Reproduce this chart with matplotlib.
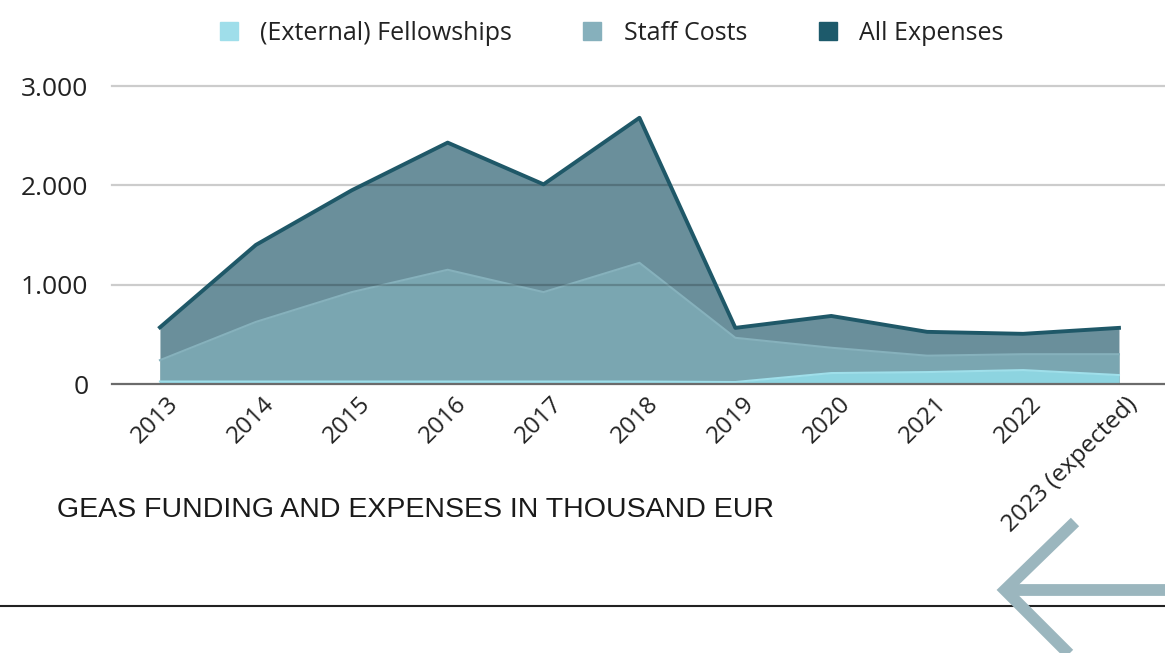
import matplotlib.pyplot as plt
from matplotlib.patches import Patch
from matplotlib.lines import Line2D
import matplotlib.transforms as mtransforms

# Données (milliers d'EUR)
years = ["2013", "2014", "2015", "2016", "2017", "2018", "2019",
         "2020", "2021", "2022", "2023 (expected)"]
all_expenses = [570, 1400, 1950, 2430, 2010, 2680, 565, 685, 525, 505, 565]
staff_costs = [240, 625, 925, 1150, 925, 1220, 465, 365, 285, 300, 300]
fellowships = [25, 25, 25, 25, 25, 25, 20, 110, 120, 140, 90]

yticks = [0, 1000, 2000, 3000]
ytick_labels = ["0", "1.000", "2.000", "3.000"]

plt.rcParams['font.family'] = ['Open Sans', 'DejaVu Sans']

W, H = 1165, 653
fig = plt.figure(figsize=(W / 100, H / 100), dpi=100)
ax = fig.add_axes([112 / W, 1 - 384 / H, (W - 112) / W, (384 - 86) / H])

x = list(range(len(years)))

# Aires superposées
ax.fill_between(x, 0, all_expenses, color='#6a8f9b', lw=0, zorder=2)
ax.fill_between(x, 0, staff_costs, color='#7aa6b1', lw=0, zorder=3)
ax.plot(x, staff_costs, color='#86b1bc', lw=1.5, zorder=3)
ax.fill_between(x, 0, fellowships, color='#8dd4e0', lw=0, zorder=4)
ax.plot(x, fellowships, color='#9fdfea', lw=1.5, zorder=4)

# Lignes de grille
for v in yticks[1:]:
    ax.axhline(v, color='black', alpha=0.2, lw=1.6, zorder=5, clip_on=False)
ax.axhline(0, color='#6b6b6b', lw=1.6, zorder=6, clip_on=False)

ax.plot(x, all_expenses, color='#1f5868', lw=2.8, zorder=7, clip_on=False)

ax.set_xlim(-0.5, 10.48)
ax.set_ylim(0, 3000)

ax.set_yticks(yticks)
ax.set_yticklabels(ytick_labels, fontsize=19, color='#222222')
ax.set_xticks(x)
ax.set_xticklabels(years, fontsize=17.5, color='#222222', rotation=45,
                   ha='right', va='center', rotation_mode='anchor')
ax.tick_params(axis='both', length=0)
ax.tick_params(axis='y', pad=17)
ax.tick_params(axis='x', pad=12)
offset = mtransforms.ScaledTranslation(11 / 72, 0, fig.dpi_scale_trans)
for lbl in ax.get_xticklabels():
    lbl.set_transform(lbl.get_transform() + offset)

for s in ax.spines.values():
    s.set_visible(False)
ax.patch.set_visible(False)

# Légende
handles = [Patch(color='#9fdeea', label='(External) Fellowships'),
           Patch(color='#86b0bc', label='Staff Costs'),
           Patch(color='#1d5a6b', label='All Expenses')]
fig.legend(handles=handles, loc='center', bbox_to_anchor=(0.525, 1 - 33 / H),
           ncol=3, frameon=False, fontsize=18, handlelength=0.72,
           handleheight=0.72, handletextpad=0.9, columnspacing=2.85,
           labelcolor='#222222')

# Titre
fig.text(57 / W, 1 - 510 / H, "GEAS FUNDING AND EXPENSES IN THOUSAND EUR",
         fontsize=20.5, family='Liberation Sans', color='#1a1a1a',
         ha='left', va='center')

# Ligne et flèche décoratives
fig.add_artist(Line2D([0, 1], [1 - 606 / H] * 2, color='#222222', lw=1.5,
                      transform=fig.transFigure))
fig.add_artist(Line2D([1, 1005 / W], [1 - 590 / H] * 2, color='#9bb6be', lw=8.5,
                      solid_capstyle='butt', transform=fig.transFigure))
fig.add_artist(Line2D([1075 / W, 1005 / W, 1075 / W],
                      [1 - 522 / H, 1 - 590 / H, 1 - 660 / H], color='#9bb6be',
                      lw=8.5, solid_joinstyle='miter', solid_capstyle='butt',
                      transform=fig.transFigure))

fig.savefig("out.png", dpi=100)
